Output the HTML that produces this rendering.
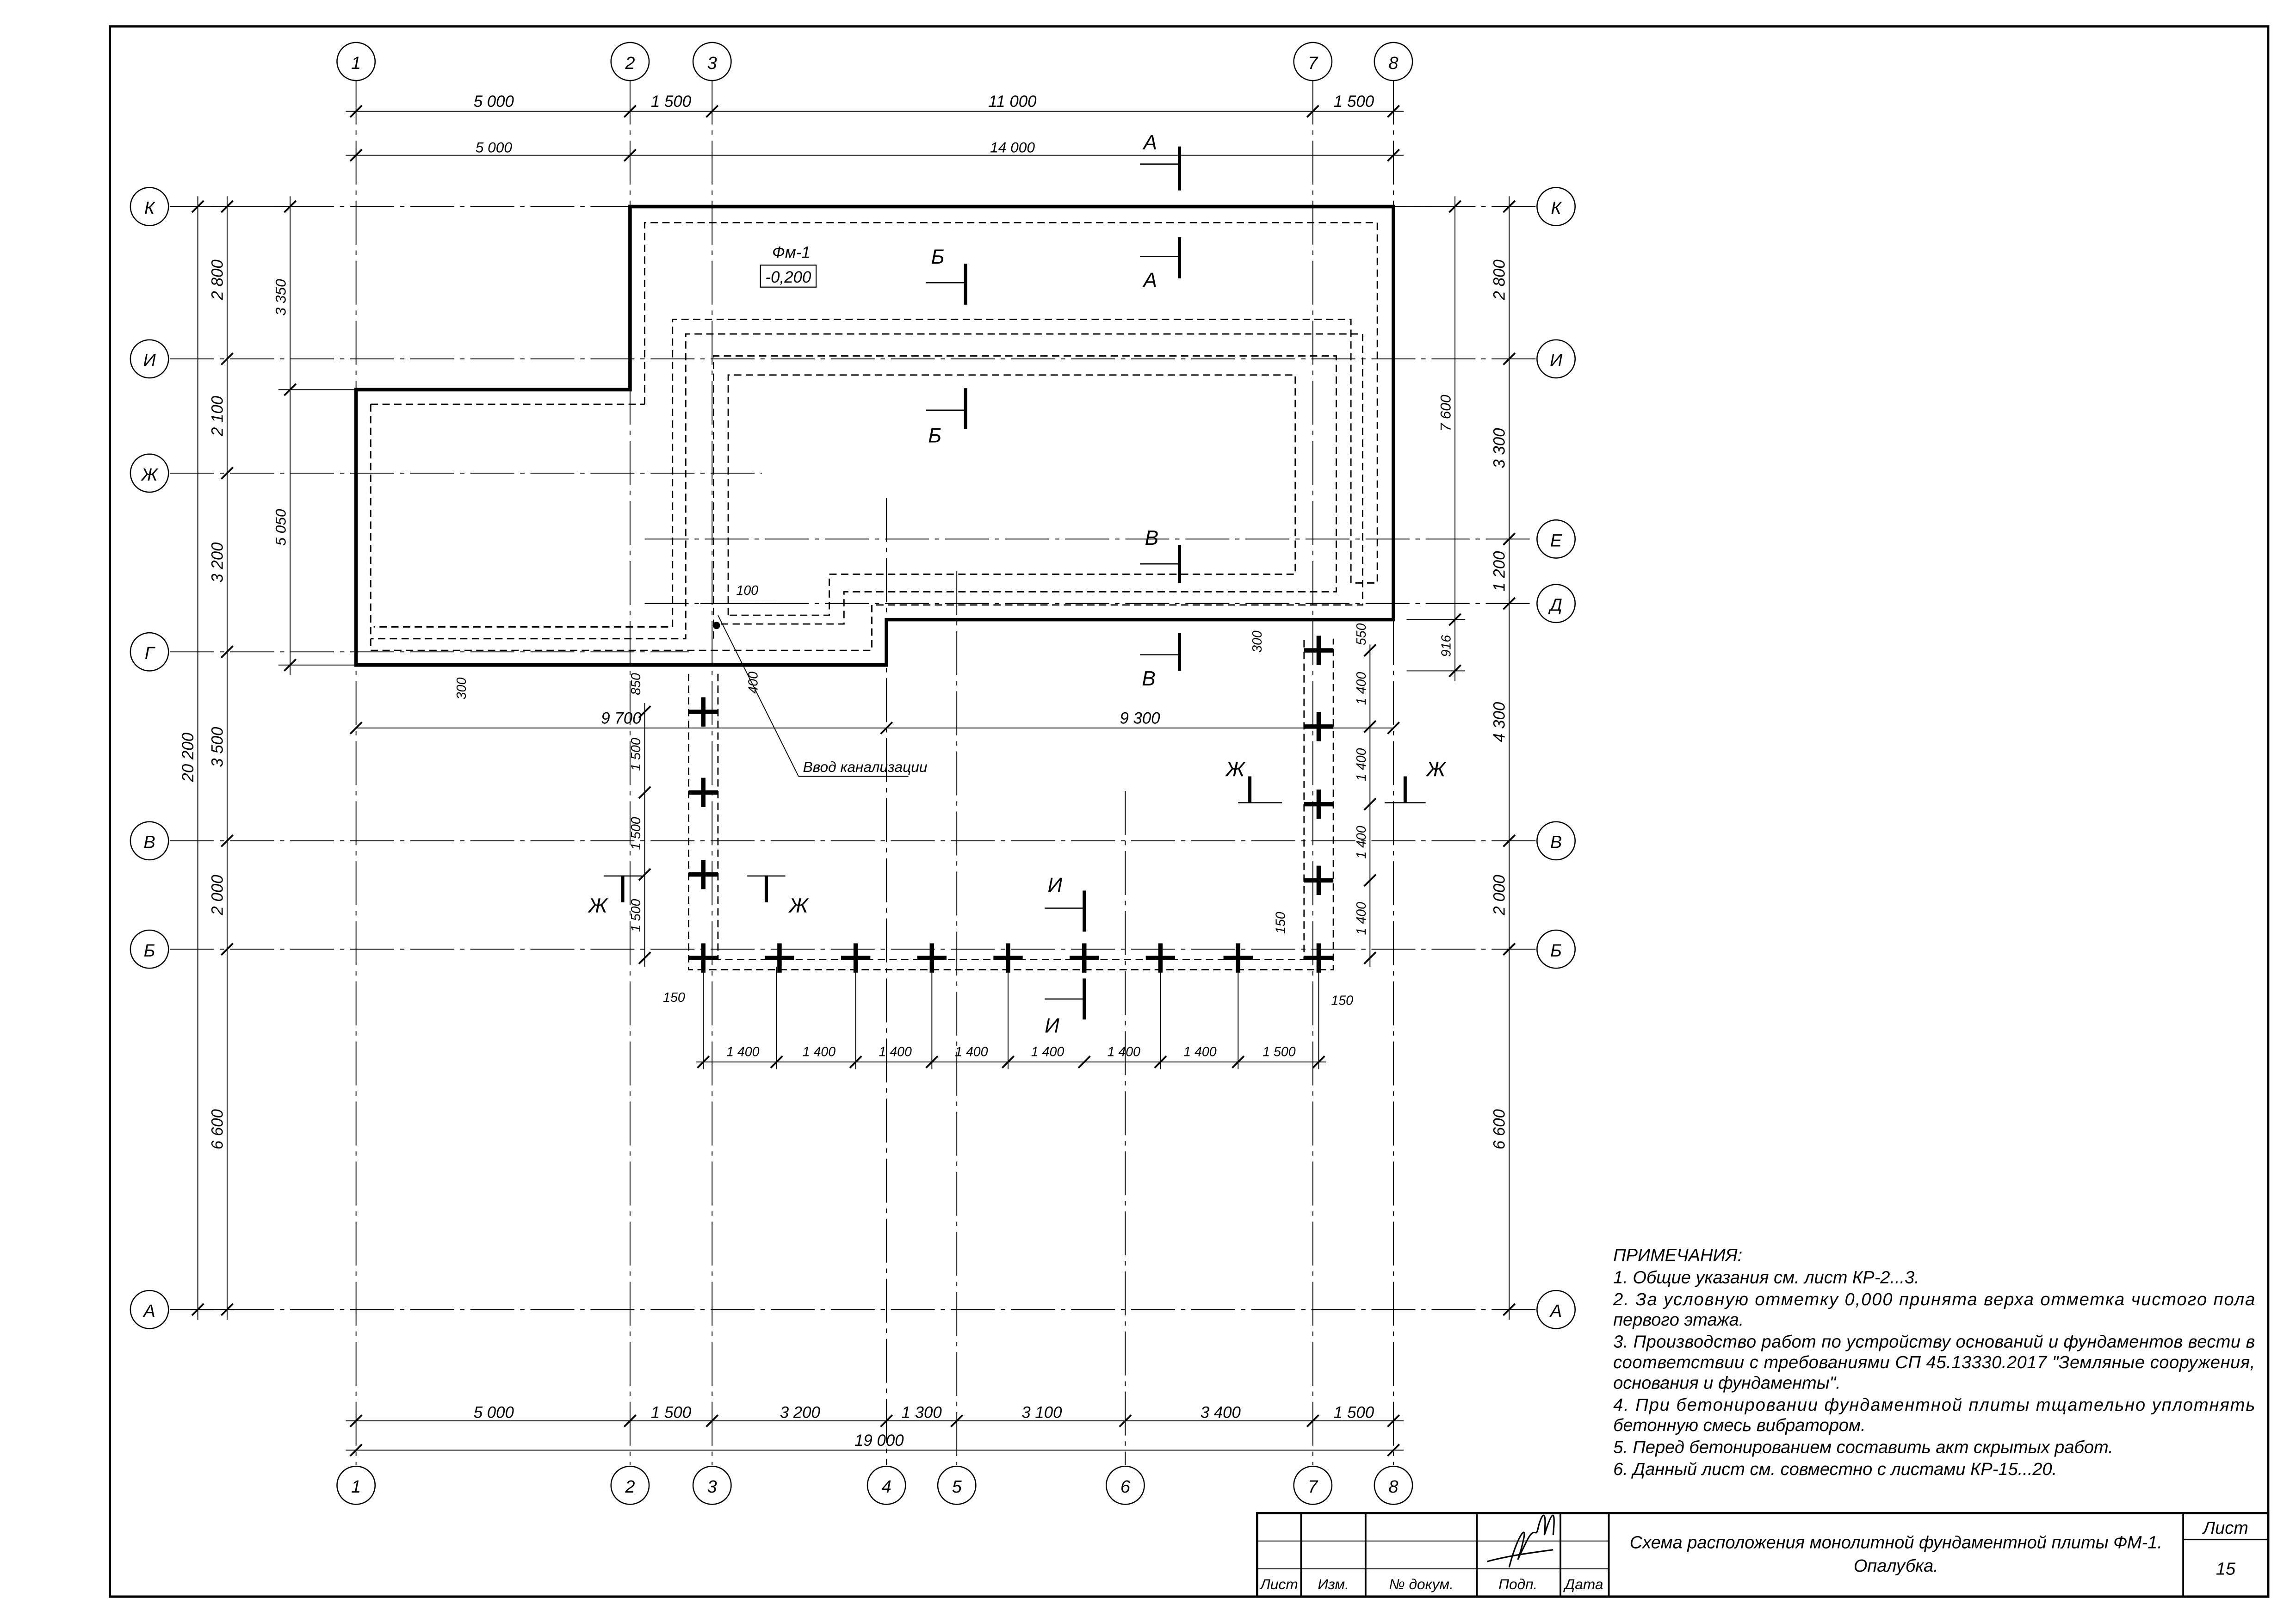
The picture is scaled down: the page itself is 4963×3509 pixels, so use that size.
<!DOCTYPE html>
<html><head><meta charset="utf-8"><style>
html,body{margin:0;padding:0;background:#fff;width:4963px;height:3509px;overflow:hidden}
svg{display:block}
text{font-family:"Liberation Sans",sans-serif;font-style:italic;fill:#000}
</style></head><body>
<svg width="4963" height="3509" viewBox="0 0 1567 1108" preserveAspectRatio="none" xmlns="http://www.w3.org/2000/svg">
<defs>
<g id="cr"><line x1="-10" y1="0" x2="10" y2="0" stroke="#000" stroke-width="3"/><line x1="0" y1="-10" x2="0" y2="10" stroke="#000" stroke-width="3"/></g>
</defs>
<rect x="75" y="18" width="1473" height="1072" fill="none" stroke="#000" stroke-width="1.6"/>

<g stroke="#000" stroke-width="0.6" stroke-dasharray="30 4 3 4" fill="none">
<line x1="243" y1="55" x2="243" y2="1000"/>
<line x1="430" y1="55" x2="430" y2="1000"/>
<line x1="486" y1="55" x2="486" y2="1000"/>
<line x1="605" y1="340" x2="605" y2="1000"/>
<line x1="653" y1="390" x2="653" y2="1000"/>
<line x1="768" y1="540" x2="768" y2="1000"/>
<line x1="896" y1="55" x2="896" y2="1000"/>
<line x1="951" y1="55" x2="951" y2="1000"/>
<line x1="116" y1="141" x2="1048" y2="141"/>
<line x1="116" y1="245" x2="1048" y2="245"/>
<line x1="116" y1="323" x2="520" y2="323"/>
<line x1="440" y1="368" x2="1048" y2="368"/>
<line x1="440" y1="412" x2="1048" y2="412"/>
<line x1="116" y1="445" x2="470" y2="445"/>
<line x1="116" y1="574" x2="1048" y2="574"/>
<line x1="116" y1="648" x2="1048" y2="648"/>
<line x1="116" y1="894" x2="1048" y2="894"/>
</g>

<g fill="#fff" stroke="#000" stroke-width="0.8">
<circle cx="243" cy="42" r="13"/><circle cx="430" cy="42" r="13"/><circle cx="486" cy="42" r="13"/><circle cx="896" cy="42" r="13"/><circle cx="951" cy="42" r="13"/>
<circle cx="243" cy="1014" r="13"/><circle cx="430" cy="1014" r="13"/><circle cx="486" cy="1014" r="13"/><circle cx="605" cy="1014" r="13"/><circle cx="653" cy="1014" r="13"/><circle cx="768" cy="1014" r="13"/><circle cx="896" cy="1014" r="13"/><circle cx="951" cy="1014" r="13"/>
<circle cx="102" cy="141" r="13"/><circle cx="102" cy="245" r="13"/><circle cx="102" cy="323" r="13"/><circle cx="102" cy="445" r="13"/><circle cx="102" cy="574" r="13"/><circle cx="102" cy="648" r="13"/><circle cx="102" cy="894" r="13"/>
<circle cx="1062" cy="141" r="13"/><circle cx="1062" cy="245" r="13"/><circle cx="1062" cy="368" r="13"/><circle cx="1062" cy="412" r="13"/><circle cx="1062" cy="574" r="13"/><circle cx="1062" cy="648" r="13"/><circle cx="1062" cy="894" r="13"/>
</g>
<g font-size="12" text-anchor="middle">
<text x="243" y="47">1</text><text x="430" y="47">2</text><text x="486" y="47">3</text><text x="896" y="47">7</text><text x="951" y="47">8</text>
<text x="243" y="1019">1</text><text x="430" y="1019">2</text><text x="486" y="1019">3</text><text x="605" y="1019">4</text><text x="653" y="1019">5</text><text x="768" y="1019">6</text><text x="896" y="1019">7</text><text x="951" y="1019">8</text>
<text x="102" y="146">К</text><text x="102" y="250">И</text><text x="102" y="328">Ж</text><text x="102" y="450">Г</text><text x="102" y="579">В</text><text x="102" y="653">Б</text><text x="102" y="899">А</text>
<text x="1062" y="146">К</text><text x="1062" y="250">И</text><text x="1062" y="373">Е</text><text x="1062" y="417">Д</text><text x="1062" y="579">В</text><text x="1062" y="653">Б</text><text x="1062" y="899">А</text>
</g>

<polygon points="430,141 951,141 951,423 605,423 605,454 243,454 243,266 430,266" fill="none" stroke="#000" stroke-width="2.4"/>
<g fill="none" stroke="#000" stroke-width="0.9" stroke-dasharray="5 3">
<polyline points="440,276 440,152 940,152 940,398 922,398 922,218 459,218 459,428 255,428"/>
<polyline points="253,276 440,276"/>
<polyline points="253,276 253,444 595,444 595,413 930,413 930,228 468,228 468,436 253,436"/>
<polyline points="487,436 487,243 912,243 912,404 576,404 576,426 487,426"/>
<polyline points="497,420 497,256 884,256 884,392 566,392 566,420 497,420"/>
<polyline points="470,460 470,662 910,662 910,436"/>
<polyline points="490,460 490,655 890,655 890,436"/>
</g>

<g>
<use href="#cr" x="480" y="486"/><use href="#cr" x="480" y="541"/><use href="#cr" x="480" y="597"/>
<use href="#cr" x="480" y="654"/><use href="#cr" x="532" y="654"/><use href="#cr" x="584" y="654"/><use href="#cr" x="636" y="654"/><use href="#cr" x="688" y="654"/><use href="#cr" x="740" y="654"/><use href="#cr" x="792" y="654"/><use href="#cr" x="845" y="654"/><use href="#cr" x="900" y="654"/>
<use href="#cr" x="900" y="444"/><use href="#cr" x="900" y="496"/><use href="#cr" x="900" y="549"/><use href="#cr" x="900" y="601"/>
</g>

<g stroke="#000" stroke-width="0.6" fill="none">
<line x1="236" y1="76" x2="958" y2="76"/>
<line x1="236" y1="106" x2="958" y2="106"/>
<line x1="236" y1="970" x2="958" y2="970"/>
<line x1="236" y1="990" x2="958" y2="990"/>
<line x1="155" y1="134" x2="155" y2="901"/>
<line x1="135" y1="134" x2="135" y2="901"/>
<line x1="198" y1="134" x2="198" y2="461"/>
<line x1="1030" y1="134" x2="1030" y2="901"/>
<line x1="993" y1="134" x2="993" y2="465"/>
<line x1="243" y1="497" x2="951" y2="497"/>
<line x1="475" y1="725" x2="905" y2="725"/>
<line x1="440" y1="480" x2="440" y2="660"/>
<line x1="935" y1="440" x2="935" y2="660"/>
<line x1="130" y1="141" x2="200" y2="141"/><line x1="130" y1="894" x2="160" y2="894"/>
<line x1="960" y1="141" x2="1000" y2="141"/><line x1="960" y1="423" x2="1000" y2="423"/><line x1="960" y1="458" x2="1000" y2="458"/>
<line x1="190" y1="266" x2="243" y2="266"/><line x1="190" y1="454" x2="243" y2="454"/>
<line x1="530" y1="660" x2="530" y2="730"/><line x1="584" y1="660" x2="584" y2="730"/><line x1="636" y1="660" x2="636" y2="730"/><line x1="688" y1="660" x2="688" y2="730"/><line x1="792" y1="660" x2="792" y2="730"/><line x1="845" y1="660" x2="845" y2="730"/><line x1="900" y1="660" x2="900" y2="730"/><line x1="480" y1="660" x2="480" y2="730"/>
<line x1="490" y1="420" x2="545" y2="530"/><line x1="545" y1="530" x2="620" y2="530"/>
<line x1="478" y1="412" x2="530" y2="412"/>
</g>
<g stroke="#000" stroke-width="1.2">
<path d="M239,80l8,-8M426,80l8,-8M482,80l8,-8M892,80l8,-8M947,80l8,-8"/>
<path d="M239,110l8,-8M426,110l8,-8M947,110l8,-8"/>
<path d="M239,974l8,-8M426,974l8,-8M482,974l8,-8M601,974l8,-8M649,974l8,-8M764,974l8,-8M892,974l8,-8M947,974l8,-8"/>
<path d="M239,994l8,-8M947,994l8,-8"/>
<path d="M151,145l8,-8M151,249l8,-8M151,327l8,-8M151,449l8,-8M151,578l8,-8M151,652l8,-8M151,898l8,-8"/>
<path d="M131,145l8,-8M131,898l8,-8M194,145l8,-8M194,270l8,-8M194,458l8,-8"/>
<path d="M1026,145l8,-8M1026,249l8,-8M1026,372l8,-8M1026,416l8,-8M1026,578l8,-8M1026,652l8,-8M1026,898l8,-8"/>
<path d="M989,145l8,-8M989,427l8,-8M989,462l8,-8"/>
<path d="M239,501l8,-8M601,501l8,-8M947,501l8,-8"/>
<path d="M476,729l8,-8M526,729l8,-8M580,729l8,-8M632,729l8,-8M684,729l8,-8M736,729l8,-8M788,729l8,-8M841,729l8,-8M896,729l8,-8"/>
<path d="M436,490l8,-8M436,545l8,-8M436,601l8,-8M436,658l8,-8M931,448l8,-8M931,500l8,-8M931,553l8,-8M931,605l8,-8M931,658l8,-8"/>
</g>
<g font-size="11" text-anchor="middle">
<text x="337" y="73">5 000</text><text x="458" y="73">1 500</text><text x="691" y="73">11 000</text><text x="924" y="73">1 500</text>
<text x="337" y="104" font-size="10">5 000</text><text x="691" y="104" font-size="10">14 000</text>
<text x="337" y="968">5 000</text><text x="458" y="968">1 500</text><text x="546" y="968">3 200</text><text x="629" y="968">1 300</text><text x="711" y="968">3 100</text><text x="833" y="968">3 400</text><text x="924" y="968">1 500</text>
<text x="600" y="987">19 000</text>
<text x="424" y="494">9 700</text><text x="778" y="494">9 300</text>
<g font-size="9"><text x="507" y="721">1 400</text><text x="559" y="721">1 400</text><text x="611" y="721">1 400</text><text x="663" y="721">1 400</text><text x="715" y="721">1 400</text><text x="767" y="721">1 400</text><text x="819" y="721">1 400</text><text x="873" y="721">1 500</text>
<text x="460" y="684">150</text><text x="916" y="686">150</text><text x="510" y="406">100</text></g>
</g>
<g font-size="11" text-anchor="middle">
<text transform="translate(152,191) rotate(-90)">2 800</text>
<text transform="translate(152,284) rotate(-90)">2 100</text>
<text transform="translate(152,384) rotate(-90)">3 200</text>
<text transform="translate(152,510) rotate(-90)">3 500</text>
<text transform="translate(152,611) rotate(-90)">2 000</text>
<text transform="translate(152,771) rotate(-90)">6 600</text>
<text transform="translate(132,517) rotate(-90)">20 200</text>
<text transform="translate(195,203) rotate(-90)" font-size="10">3 350</text>
<text transform="translate(195,360) rotate(-90)" font-size="10">5 050</text>
<text transform="translate(1027,191) rotate(-90)">2 800</text>
<text transform="translate(1027,306) rotate(-90)">3 300</text>
<text transform="translate(1027,390) rotate(-90)">1 200</text>
<text transform="translate(1027,493) rotate(-90)">4 300</text>
<text transform="translate(1027,611) rotate(-90)">2 000</text>
<text transform="translate(1027,771) rotate(-90)">6 600</text>
<text transform="translate(990,282) rotate(-90)" font-size="10">7 600</text>
<text transform="translate(990,441) rotate(-90)" font-size="9">916</text>
<g font-size="9">
<text transform="translate(437,515) rotate(-90)">1 500</text><text transform="translate(437,569) rotate(-90)">1 500</text><text transform="translate(437,625) rotate(-90)">1 500</text><text transform="translate(437,467) rotate(-90)">850</text>
<text transform="translate(932,470) rotate(-90)">1 400</text><text transform="translate(932,522) rotate(-90)">1 400</text><text transform="translate(932,575) rotate(-90)">1 400</text><text transform="translate(932,627) rotate(-90)">1 400</text><text transform="translate(932,433) rotate(-90)">550</text>
<text transform="translate(318,470) rotate(-90)">300</text><text transform="translate(517,466) rotate(-90)">400</text><text transform="translate(861,438) rotate(-90)">300</text><text transform="translate(877,630) rotate(-90)">150</text>
</g>
</g>

<g stroke="#000" fill="none">
<path d="M805,100v30M805,162v28M659,180v28M659,265v28M805,372v26M805,432v26M740,608v28M740,668v28M853,530v18M959,530v18M425,598v18M523,598v18" stroke-width="2.2"/>
<path d="M778,112h26M778,175h26M632,193h26M632,280h26M778,385h26M778,447h26M713,620h26M713,682h26M845,548h30M945,548h28M412,598h26M510,598h26" stroke-width="0.8"/>
</g>
<g font-size="14" text-anchor="middle">
<text x="785" y="102">А</text><text x="785" y="196">А</text><text x="640" y="180">Б</text><text x="638" y="302">Б</text>
<text x="786" y="372">В</text><text x="784" y="468">В</text><text x="720" y="609">И</text><text x="718" y="705">И</text>
<text x="843" y="530">Ж</text><text x="980" y="530">Ж</text><text x="408" y="623">Ж</text><text x="545" y="623">Ж</text>
</g>
<text x="540" y="176" font-size="11" text-anchor="middle">Фм-1</text>
<rect x="519" y="181" width="38" height="15" fill="none" stroke="#000" stroke-width="0.7"/>
<text x="538" y="193" font-size="11" text-anchor="middle">-0,200</text>
<circle cx="489" cy="427" r="2.5" fill="#000"/>
<text x="548" y="527" font-size="10">Ввод канализации</text>

<g font-size="12">
<text x="1101" y="861">ПРИМЕЧАНИЯ:</text>
<text x="1101" y="876">1. Общие указания см. лист КР-2...3.</text>
<text x="1101" y="891" textLength="438">2. За условную отметку 0,000 принята верха отметка чистого пола</text>
<text x="1101" y="905">первого этажа.</text>
<text x="1101" y="920" textLength="438">3. Производство работ по устройству оснований и фундаментов вести в</text>
<text x="1101" y="934" textLength="438">соответствии с требованиями СП 45.13330.2017 "Земляные сооружения,</text>
<text x="1101" y="948">основания и фундаменты".</text>
<text x="1101" y="963" textLength="438">4. При бетонировании фундаментной плиты тщательно уплотнять</text>
<text x="1101" y="977">бетонную смесь вибратором.</text>
<text x="1101" y="992">5. Перед бетонированием составить акт скрытых работ.</text>
<text x="1101" y="1007">6. Данный лист см. совместно с листами КР-15...20.</text>
</g>

<g stroke="#000" fill="none">
<rect x="858" y="1033" width="690" height="57" stroke-width="1.6"/>
<path d="M888,1033v57M932,1033v57M1008,1033v57M1065,1033v57M1098,1033v57M1490,1033v57" stroke-width="1.2"/>
<path d="M858,1052h240M858,1071h240" stroke-width="0.6"/>
<path d="M1490,1051h58" stroke-width="1"/>
<path d="M1030,1070c5,-20 12,-30 10,-20c-3,15 -8,22 2,2c6,-12 6,0 8,-10c2,-8 6,-14 4,6c5,-16 8,-20 6,0M1015,1066c15,-4 30,-6 45,-8" stroke-width="1"/>
</g>
<g font-size="10" text-anchor="middle">
<text x="873" y="1085">Лист</text><text x="910" y="1085">Изм.</text><text x="970" y="1085">№ докум.</text><text x="1036" y="1085">Подп.</text><text x="1081" y="1085">Дата</text>
</g>
<text x="1294" y="1057" font-size="12" text-anchor="middle">Схема расположения монолитной фундаментной плиты ФМ-1.</text>
<text x="1294" y="1073" font-size="12" text-anchor="middle">Опалубка.</text>
<text x="1519" y="1047" font-size="12" text-anchor="middle">Лист</text>
<text x="1519" y="1075" font-size="12" text-anchor="middle">15</text>
</svg>
</body></html>
